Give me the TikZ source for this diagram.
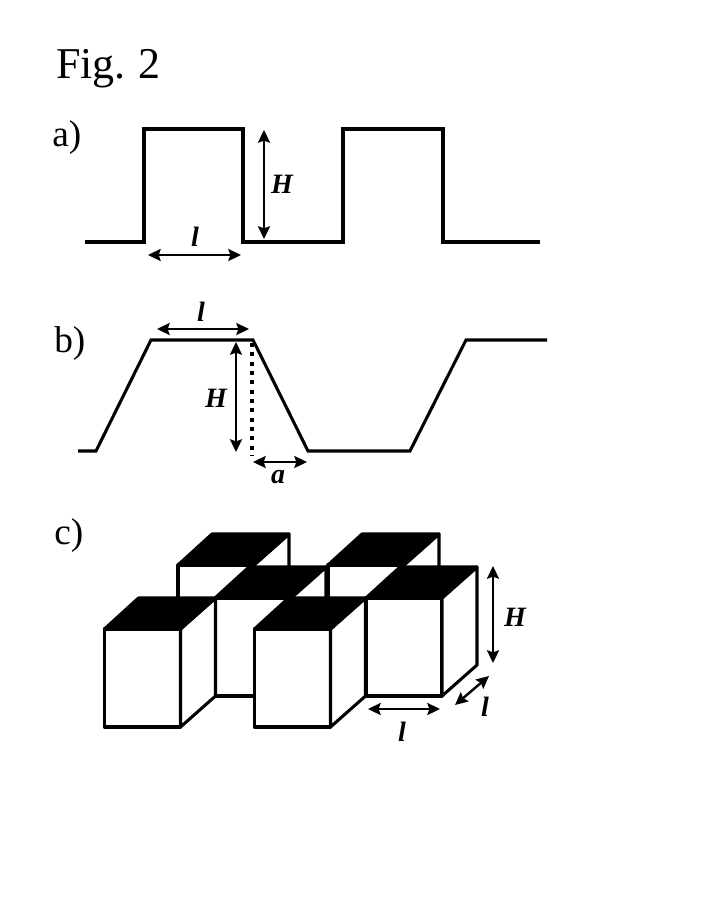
\documentclass[tikz,border=0pt]{standalone}
\usepackage{fontspec}
\setmainfont{Liberation Serif}
\usetikzlibrary{arrows.meta}
\tikzset{
  profile/.style={line width=2.3pt,line join=miter,black},
  dim/.style={line width=1.8pt,black,{Stealth[length=9.5pt,width=9pt,inset=1.5pt]}-{Stealth[length=9.5pt,width=9pt,inset=1.5pt]}},
  dotline/.style={line width=2.3pt,black,dash pattern=on 3pt off 4pt},
  edge/.style={line width=2.3pt,black,line join=round},
  dimlabel/.style={inner sep=0pt,font=\fontsize{21}{21}\selectfont\itshape\bfseries},
  panel/.style={inner sep=0pt,anchor=base west,font=\fontsize{28}{28}\selectfont},
}
\newcommand{\cube}[2]{%
  \begin{scope}[shift={(#1,#2)}]
    \filldraw[edge,fill=white] (0,0) rectangle (76,98);
    \filldraw[edge,fill=white] (76,0) -- (111,-31) -- (111,67) -- (76,98) -- cycle;
    \filldraw[edge,fill=black] (0,0) -- (34,-31) -- (111,-31) -- (76,0) -- cycle;
  \end{scope}}
\begin{document}
\begin{tikzpicture}[x=0.75pt,y=-0.75pt]
\useasboundingbox (0,0) rectangle (708,917);
\fill[white] (0,0) rectangle (708,917);
\node[panel,font=\fontsize{33}{33}\selectfont] (title) at (56,79) {Fig.\hspace{0.29em}2};
\node[panel] (lblA) at (52,146) {a)};
\node[panel] (lblB) at (54,352) {b)};
\node[panel] (lblC) at (54,544) {c)};
% a
\draw[profile] (85,242) -- (144,242) -- (144,129) -- (243,129) -- (243,242) -- (343,242) -- (343,129) -- (443,129) -- (443,242) -- (540,242);
\coordinate (aHt) at (264,130); \coordinate (aHb) at (264,239);
\coordinate (aLl) at (148,255); \coordinate (aLr) at (241,255);
\draw[dim] (aHt) -- (aHb);
\draw[dim] (aLl) -- (aLr);
\node[dimlabel] (aH) at (282,184) {H};
\node[dimlabel] (aL) at (195,237) {l};
% b
\draw[profile] (78,451) -- (96,451) -- (151,340) -- (253,340) -- (308,451) -- (410,451) -- (466,340) -- (547,340);
\coordinate (bDt) at (252,343); \coordinate (bDb) at (252,456);
\draw[dotline] (bDt) -- (bDb);
\coordinate (bHt) at (236,342); \coordinate (bHb) at (236,452);
\coordinate (bLl) at (157,329); \coordinate (bLr) at (249,329);
\coordinate (bAl) at (253,462); \coordinate (bAr) at (307,462);
\draw[dim] (bHt) -- (bHb);
\draw[dim] (bLl) -- (bLr);
\draw[dim] (bAl) -- (bAr);
\node[dimlabel] (bH) at (216,398) {H};
\node[dimlabel] (bL) at (201,312) {l};
\node[dimlabel] (bA) at (278,477) {a};
% c
\cube{178}{565}
\cube{328}{565}
\cube{215}{598}
\cube{366}{598}
\cube{104.5}{629}
\cube{254.5}{629}
\coordinate (cHt) at (493,566); \coordinate (cHb) at (493,663);
\coordinate (cLl) at (368,709); \coordinate (cLr) at (440,709);
\coordinate (cDl) at (455,705); \coordinate (cDr) at (489,676);
\draw[dim] (cHt) -- (cHb);
\draw[dim] (cLl) -- (cLr);
\draw[dim] (cDl) -- (cDr);
\node[dimlabel] (cH) at (515,617) {H};
\node[dimlabel] (cL) at (402,732) {l};
\node[dimlabel] (cD) at (485,707) {l};
\end{tikzpicture}
\end{document}
